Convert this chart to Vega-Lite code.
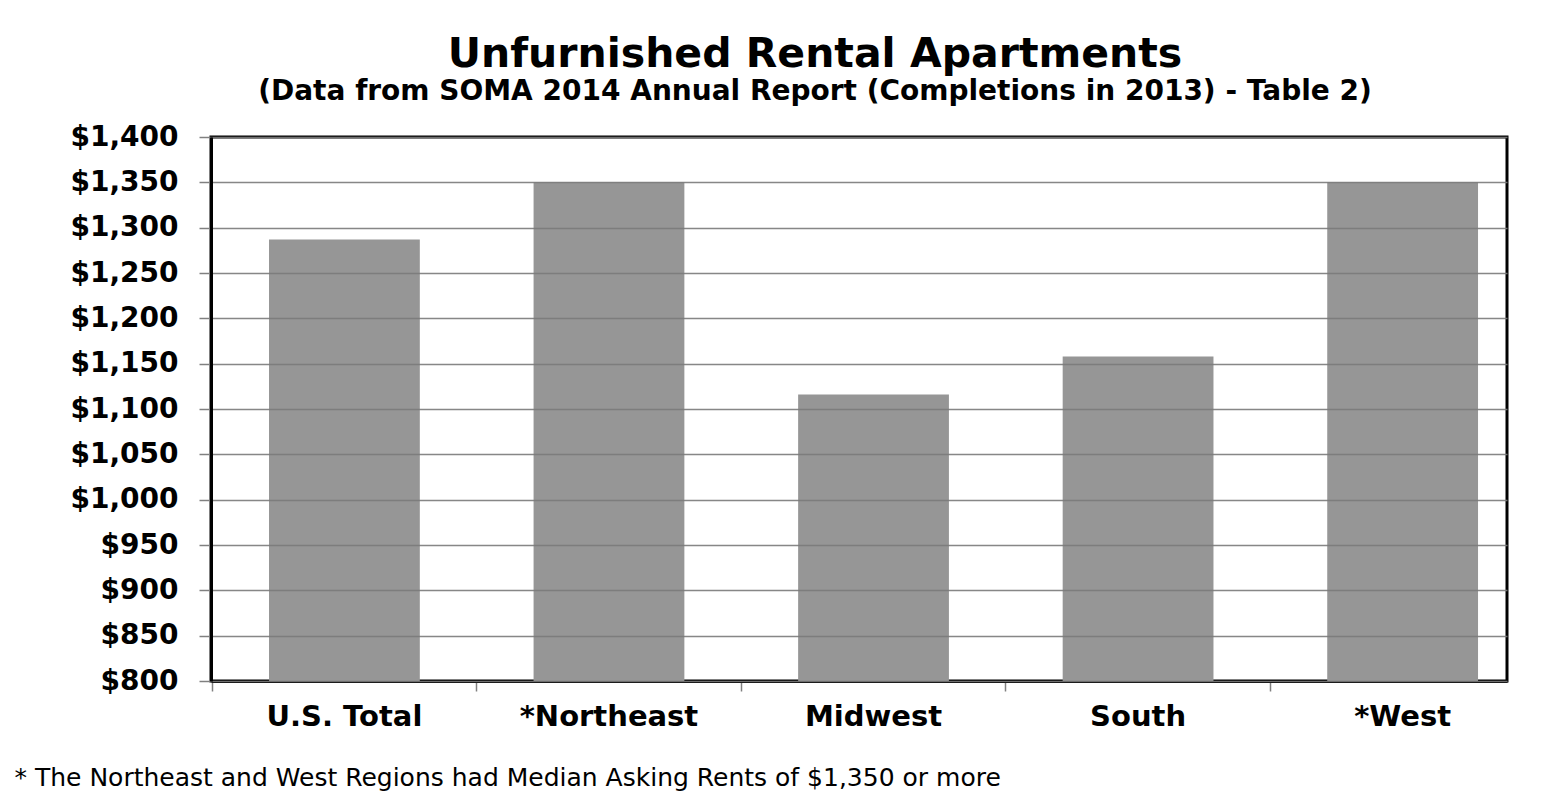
{
  "$schema": "https://vega.github.io/schema/vega-lite/v6.json",
  "autosize": "none",
  "width": 1296,
  "height": 544,
  "padding": {"left": 211, "top": 137, "right": 57, "bottom": 128},
  "background": "white",
  "data": {
    "values": [
      {"region": "U.S. Total", "rent": 1287},
      {"region": "*Northeast", "rent": 1350},
      {"region": "Midwest", "rent": 1116},
      {"region": "South", "rent": 1158},
      {"region": "*West", "rent": 1350}
    ]
  },
  "title": {
    "text": "Unfurnished Rental Apartments",
    "subtitle": "(Data from SOMA 2014 Annual Report (Completions in 2013) - Table 2)",
    "font": "DejaVu Sans",
    "fontSize": 41,
    "fontWeight": "bold",
    "color": "black",
    "subtitleFont": "DejaVu Sans",
    "subtitleFontSize": 28,
    "subtitleFontWeight": "bold",
    "subtitleColor": "black",
    "subtitlePadding": 2,
    "anchor": "middle",
    "dx": -44,
    "offset": 16
  },
  "mark": {"type": "bar", "color": "#969696", "clip": true},
  "encoding": {
    "x": {
      "field": "region",
      "type": "nominal",
      "sort": null,
      "scale": {"paddingInner": 0.43, "paddingOuter": 0.1644, "align": 0.667},
      "axis": {
        "title": "* The Northeast and West Regions had Median Asking Rents of $1,350 or more",
        "titleFont": "DejaVu Sans",
        "titleFontSize": 25,
        "titleFontWeight": "normal",
        "titleColor": "black",
        "titleAnchor": "start",
        "titleAlign": "left",
        "titleBaseline": "alphabetic",
        "titleX": -197,
        "titleY": 104,
        "labelAngle": 0,
        "labelFont": "DejaVu Sans",
        "labelFontSize": 29,
        "labelFontWeight": "bold",
        "labelColor": "black",
        "labelPadding": 11,
        "domainColor": "black",
        "domainWidth": 3,
        "ticks": true,
        "tickColor": "#808080",
        "tickWidth": 1.5,
        "tickSize": 10,
        "bandPosition": -0.376,
        "grid": false
      }
    },
    "y": {
      "field": "rent",
      "type": "quantitative",
      "scale": {"domain": [800, 1400], "zero": false, "nice": false},
      "axis": {
        "title": null,
        "values": [800, 850, 900, 950, 1000, 1050, 1100, 1150, 1200, 1250, 1300, 1350, 1400],
        "format": "$,.0f",
        "labelFont": "DejaVu Sans",
        "labelFontSize": 28,
        "labelFontWeight": "bold",
        "labelColor": "black",
        "labelPadding": 21,
        "domainColor": "black",
        "domainWidth": 3,
        "tickColor": "#808080",
        "tickWidth": 1.5,
        "tickSize": 12,
        "grid": true,
        "gridColor": "#7a7a7a",
        "gridWidth": 1.5,
        "gridOpacity": 0.9,
        "zindex": 1
      }
    }
  },
  "config": {
    "view": {"stroke": "black", "strokeWidth": 3}
  }
}
